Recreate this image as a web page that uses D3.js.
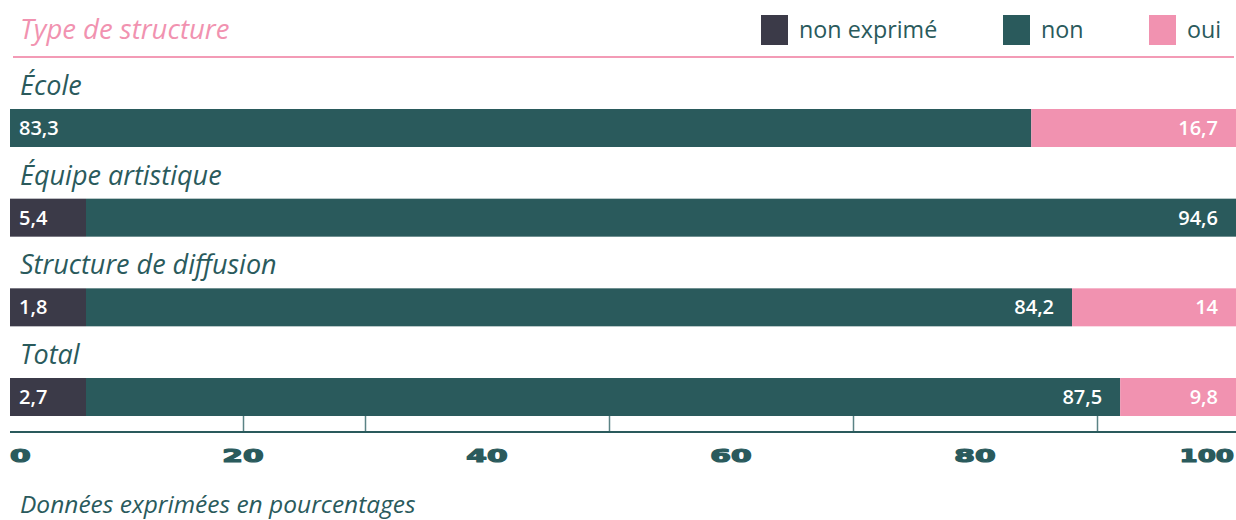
<!DOCTYPE html>
<html><head><meta charset="utf-8">
<script src="https://cdn.jsdelivr.net/npm/d3@7/dist/d3.min.js"></script>
<style>
html,body{margin:0;padding:0;background:#fff;}
svg{display:block;}
</style></head>
<body>
<svg id="chart" width="1236" height="520"></svg>
<script>
const categories = ["École", "Équipe artistique", "Structure de diffusion", "Total"];
const seriesNames = ["non exprimé", "non", "oui"];
const nonExprime = [0, 5.4, 1.8, 2.7];
const non = [83.3, 94.6, 84.2, 87.5];
const oui = [16.7, 0, 14, 9.8];
const tickLabels = [0, 20, 40, 60, 80, 100];
const tickMarks = [20, 30, 50, 70, 90];
const colors = ["#3b3a48", "#2a5a5c", "#f192b0"];
const teal = "#2a5a5c";
const pink = "#f192b0";
const fontText = "'Open Sans', Lato, sans-serif";

const svg = d3.select("#chart");

const x = d3.scaleLinear().domain([0, 100]).range([10, 1236]);
const xAxisScale = d3.scaleLinear().domain([0, 100]).range([-1, 1219]);
const y = d3.scalePoint().domain(categories).range([109, 378]);
const barH = 38;
const minSeg = 76; // minimum pixel width so a label fits

// Title
svg.append("text").attr("x", 20).attr("y", 39)
  .attr("font-family", fontText).attr("font-style", "italic")
  .attr("font-size", 27.5).attr("fill", pink).text("Type de structure");

// Header line
svg.append("line").attr("x1", 13).attr("x2", 1234).attr("y1", 57).attr("y2", 57)
  .attr("stroke", "#f39bb6").attr("stroke-width", 2);

// Legend
const legendX = [761, 1003, 1149];
const leg = svg.append("g");
seriesNames.forEach((s, i) => {
  leg.append("rect").attr("x", legendX[i]).attr("y", 15).attr("width", 27).attr("height", 30).attr("fill", colors[i]);
  leg.append("text").attr("x", legendX[i] + 38).attr("y", 38)
    .attr("font-family", fontText).attr("font-size", 23.3).attr("fill", teal).text(s);
});

const rows = categories.map((c, i) => ({cat: c, vals: [nonExprime[i], non[i], oui[i]]}));

rows.forEach(r => {
  const top = y(r.cat);
  svg.append("text").attr("x", 20).attr("y", top - 14)
    .attr("font-family", fontText).attr("font-style", "italic")
    .attr("font-size", 27).attr("fill", teal).text(r.cat);
  const total = x(100) - x(0);
  const raw = r.vals.map(v => x(v) - x(0));
  const small = raw.map(w => w > 0 && w < minSeg);
  const fixed = d3.sum(raw.map((w, k) => small[k] ? minSeg : 0));
  const rest = d3.sum(raw.map((w, k) => small[k] ? 0 : w));
  const k = (total - fixed) / rest;
  const widths = raw.map((w, j) => small[j] ? minSeg : w * k);
  let cx = x(0);
  let firstDone = false;
  r.vals.forEach((v, j) => {
    const x0 = cx, x1 = cx + widths[j];
    cx = x1;
    svg.append("rect").attr("x", x0).attr("y", top)
      .attr("width", Math.max(v === 0 && j === 0 ? 1.5 : 0, x1 - x0)).attr("height", barH)
      .attr("fill", colors[j]);
    if (v > 0) {
      const isFirst = !firstDone;
      firstDone = true;
      svg.append("text")
        .attr("x", isFirst ? x0 + 9 : x1 - 18)
        .attr("y", top + barH / 2 + 7)
        .attr("text-anchor", isFirst ? "start" : "end")
        .attr("font-family", fontText).attr("font-weight", 600)
        .attr("font-size", 20).attr("fill", "#fff")
        .text(String(v).replace(".", ","));
    }
  });
});

// Axis
const axisY = 432;
const axisG = svg.append("g").attr("transform", `translate(0,${axisY})`)
  .call(d3.axisTop(xAxisScale).tickValues(tickMarks).tickSize(16).tickSizeOuter(0).tickFormat(""));
axisG.select(".domain").remove();
axisG.selectAll(".tick line").attr("stroke", "#5b8385").attr("stroke-width", 1.5);
svg.append("line").attr("x1", x(0)).attr("x2", x(100)).attr("y1", axisY).attr("y2", axisY)
  .attr("stroke", teal).attr("stroke-width", 2);

tickLabels.forEach((t, i) => {
  let px = xAxisScale(t), anchor = "middle";
  if (i === 0) { px = x(0); anchor = "start"; }
  if (i === tickLabels.length - 1) { px = x(100) - 2; anchor = "end"; }
  svg.append("text")
    .attr("transform", `translate(${px},462) scale(${t === 100 ? 1.45 : 1.65},1)`)
    .attr("text-anchor", anchor)
    .attr("font-family", "'DejaVu Sans', sans-serif").attr("font-weight", 700)
    .attr("font-size", 18).attr("fill", teal)
    .attr("stroke", teal).attr("stroke-width", 1.2).attr("stroke-linejoin", "round")
    .text(t);
});

// Footnote
svg.append("text").attr("x", 20).attr("y", 513)
  .attr("font-family", fontText).attr("font-style", "italic")
  .attr("font-size", 24.5).attr("fill", teal).text("Données exprimées en pourcentages");
</script>
</body></html>
